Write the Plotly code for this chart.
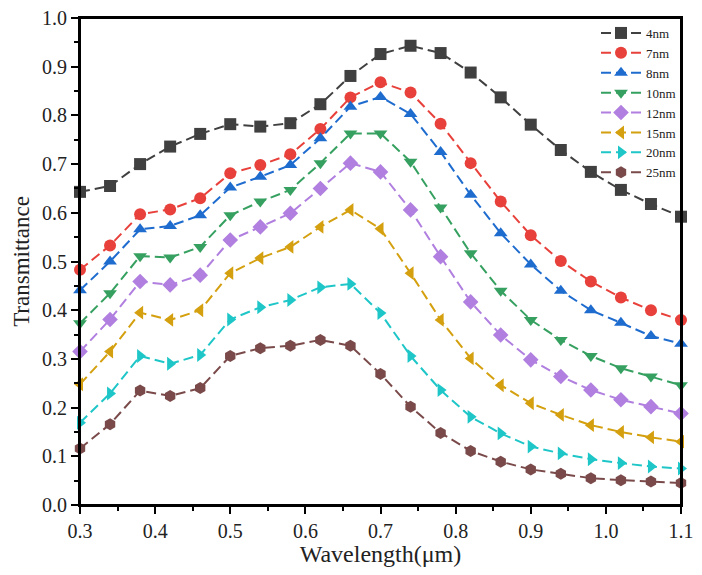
import plotly.graph_objects as go

wavelength = [0.30, 0.34, 0.38, 0.42, 0.46, 0.50, 0.54, 0.58, 0.62, 0.66, 0.70,
              0.74, 0.78, 0.82, 0.86, 0.90, 0.94, 0.98, 1.02, 1.06, 1.10]

t_4nm = [0.643, 0.655, 0.700, 0.736, 0.762, 0.782, 0.777, 0.784, 0.823, 0.881, 0.926,
         0.943, 0.928, 0.888, 0.837, 0.781, 0.729, 0.684, 0.647, 0.618, 0.592]
t_7nm = [0.483, 0.533, 0.597, 0.607, 0.630, 0.681, 0.698, 0.720, 0.772, 0.837, 0.868,
         0.847, 0.783, 0.702, 0.623, 0.554, 0.501, 0.459, 0.426, 0.400, 0.380]
t_8nm = [0.441, 0.500, 0.566, 0.573, 0.595, 0.652, 0.674, 0.698, 0.753, 0.818, 0.838,
         0.803, 0.725, 0.637, 0.558, 0.494, 0.440, 0.400, 0.374, 0.347, 0.331]
t_10nm = [0.373, 0.435, 0.511, 0.508, 0.530, 0.595, 0.623, 0.647, 0.702, 0.763, 0.763,
          0.705, 0.611, 0.517, 0.440, 0.380, 0.339, 0.306, 0.281, 0.264, 0.246]
t_12nm = [0.315, 0.381, 0.459, 0.452, 0.472, 0.544, 0.571, 0.599, 0.650, 0.702, 0.684,
          0.606, 0.510, 0.417, 0.349, 0.298, 0.264, 0.236, 0.216, 0.202, 0.188]
t_15nm = [0.248, 0.315, 0.395, 0.380, 0.400, 0.476, 0.507, 0.530, 0.571, 0.606, 0.567,
          0.476, 0.380, 0.301, 0.246, 0.209, 0.185, 0.164, 0.150, 0.139, 0.130]
t_20nm = [0.169, 0.229, 0.306, 0.290, 0.308, 0.381, 0.406, 0.421, 0.447, 0.454, 0.394,
          0.306, 0.236, 0.181, 0.147, 0.120, 0.106, 0.094, 0.086, 0.079, 0.075]
t_25nm = [0.116, 0.166, 0.235, 0.224, 0.240, 0.306, 0.322, 0.327, 0.339, 0.327, 0.269,
          0.202, 0.148, 0.111, 0.089, 0.073, 0.064, 0.055, 0.051, 0.048, 0.045]

series_names = ["4nm", "7nm", "8nm", "10nm", "12nm", "15nm", "20nm", "25nm"]
series_values = [t_4nm, t_7nm, t_8nm, t_10nm, t_12nm, t_15nm, t_20nm, t_25nm]
colors = ["#404040", "#e8403a", "#1f6ccf", "#36a060", "#b07fdf", "#d4a00f", "#1fc6c8", "#7a4a4a"]
symbols = ["square", "circle", "triangle-up", "triangle-down", "diamond",
           "triangle-left", "triangle-right", "hexagon"]

x_ticks = [0.3, 0.4, 0.5, 0.6, 0.7, 0.8, 0.9, 1.0, 1.1]
y_ticks = [0.0, 0.1, 0.2, 0.3, 0.4, 0.5, 0.6, 0.7, 0.8, 0.9, 1.0]

FONT = "Liberation Serif, Times New Roman, serif"

fig = go.Figure()
for name, vals, c, s in zip(series_names, series_values, colors, symbols):
    fig.add_trace(go.Scatter(
        x=wavelength, y=vals, name=name, mode="lines+markers",
        line=dict(color=c, width=2, dash="10px,5px"),
        marker=dict(symbol=s, size=12, color=c, line=dict(width=0)),
        cliponaxis=False,
    ))

axis_common = dict(
    showline=True, linecolor="black", linewidth=2, mirror=True,
    ticks="outside", ticklen=7, tickwidth=1.5, tickcolor="black",
    showgrid=False, zeroline=False, automargin=False,
    ticklabeloverflow="allow",
    tickfont=dict(family=FONT, size=20, color="#222"),
)

fig.update_xaxes(
    range=[0.3, 1.1], tickvals=x_ticks, ticktext=[f"{v:.1f}" for v in x_ticks],
    minor=dict(ticks="outside", ticklen=4, tickwidth=1.5, tickcolor="black", dtick=0.05, tick0=0.3),
    title=dict(text="Wavelength(μm)", font=dict(family=FONT, size=24, color="#222"), standoff=6),
    **axis_common,
)
fig.update_yaxes(
    range=[0.0, 1.0], tickvals=y_ticks, ticktext=[f"{v:.1f}" for v in y_ticks],
    minor=dict(ticks="outside", ticklen=4, tickwidth=1.5, tickcolor="black", dtick=0.05, tick0=0),
    title=dict(text="Transmittance", font=dict(family=FONT, size=23, color="#222"), standoff=6),
    **axis_common,
)

# plot frame (top and right edges)
fig.add_shape(type="rect", xref="paper", yref="paper", x0=0, x1=1, y0=0, y1=1,
              line=dict(color="black", width=2), fillcolor="rgba(0,0,0,0)", layer="above")

# page body has an 8px margin; figure kept inside the window so no scrollbars appear
fig.update_layout(
    width=686, height=559,
    margin=dict(l=72, r=13, t=10, b=62, autoexpand=False),
    plot_bgcolor="white", paper_bgcolor="white",
    legend=dict(
        x=1.0, y=1.0, xanchor="right", yanchor="top",
        font=dict(family=FONT, size=13, color="#222"),
        bgcolor="rgba(0,0,0,0)", borderwidth=0,
        tracegroupgap=0, itemwidth=40,
    ),
)

fig.write_html("out.html")
